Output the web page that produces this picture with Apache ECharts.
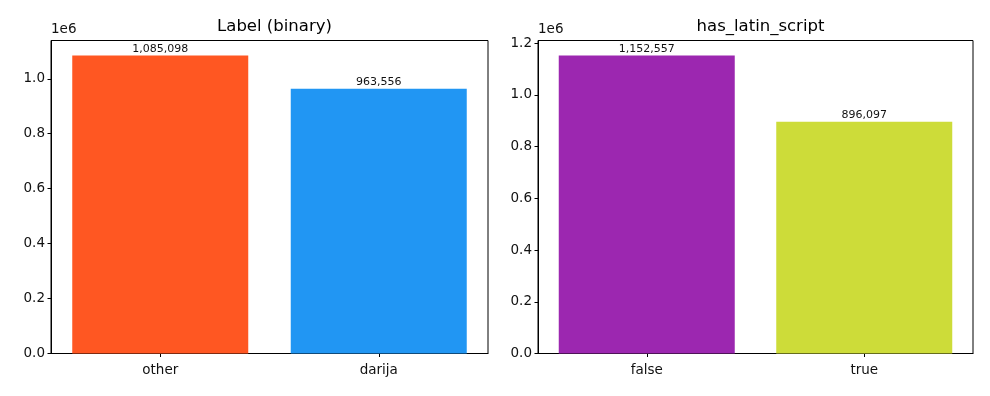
<!DOCTYPE html>
<html>
<head>
<meta charset="utf-8">
<script src="https://cdn.jsdelivr.net/npm/echarts@6/dist/echarts.min.js"></script>
<style>html,body{margin:0;padding:0;background:#fff}#c{width:990px;height:396px}</style>
</head>
<body>
<div id="c"></div>
<script>
const titles = ['Label (binary)', 'has_latin_script'];
const categoriesLeft = ['other', 'darija'];
const valuesLeft = [1085098, 963556];
const categoriesRight = ['false', 'true'];
const valuesRight = [1152557, 896097];
const colorsLeft = ['#FF5722', '#2196F3'];
const colorsRight = ['#9C27B0', '#CDDC39'];
const yTickStep = 200000;

const font = 'DejaVu Sans';
const chart = echarts.init(document.getElementById('c'), null, {renderer: 'canvas'});

const grids = [
  {left: 51, top: 40.5, width: 437, height: 313, show: true, borderColor: '#000', borderWidth: 1},
  {left: 538, top: 40.5, width: 435, height: 313, show: true, borderColor: '#000', borderWidth: 1}
];
function yAx(gi, maxV) {
  return {
    type: 'value', gridIndex: gi, min: 0, max: maxV, interval: yTickStep,
    axisLine: {show: true, lineStyle: {color: '#000', width: 1}},
    axisTick: {show: true, length: 3.5, lineStyle: {color: '#000'}},
    splitLine: {show: false},
    axisLabel: {margin: 6, color: '#111', fontFamily: font, fontSize: 13.5, showMaxLabel: false,
      formatter: v => (v % yTickStep === 0) ? (v / 1e6).toFixed(1) : ''}
  };
}
function xAx(gi, cats) {
  return {
    type: 'category', gridIndex: gi, data: cats,
    axisLine: {show: true, lineStyle: {color: '#000', width: 1}},
    axisTick: {show: true, alignWithLabel: true, length: 3.5, lineStyle: {color: '#000'}},
    axisLabel: {margin: 10, color: '#111', fontFamily: font, fontSize: 13.5}
  };
}
function ser(gi, vals, cols) {
  return {
    type: 'bar', xAxisIndex: gi, yAxisIndex: gi, barWidth: 176,
    data: vals.map((v, i) => ({value: v, itemStyle: {color: cols[i]}})),
    label: {show: true, position: 'top', distance: 1, color: '#111', fontFamily: font, fontSize: 11,
      formatter: p => p.value.toLocaleString('en-US')}
  };
}
const maxL = Math.max(...valuesLeft) * 1.05;
const maxR = Math.max(...valuesRight) * 1.05;

chart.setOption({
  animation: false,
  title: [
    {text: titles[0], left: 269.5, top: 13, textAlign: 'center', textStyle: {fontFamily: font, fontSize: 16.5, fontWeight: 'normal', color: '#000'}},
    {text: titles[1], left: 755.5, top: 13, textAlign: 'center', textStyle: {fontFamily: font, fontSize: 16.5, fontWeight: 'normal', color: '#000'}}
  ],
  grid: grids,
  xAxis: [xAx(0, categoriesLeft), xAx(1, categoriesRight)],
  yAxis: [yAx(0, maxL), yAx(1, maxR)],
  series: [ser(0, valuesLeft, colorsLeft), ser(1, valuesRight, colorsRight)],
  graphic: [
    {type: 'text', left: 51, top: 22, style: {text: '1e6', fontFamily: font, fontSize: 13.5, fill: '#111'}},
    {type: 'text', left: 538, top: 22, style: {text: '1e6', fontFamily: font, fontSize: 13.5, fill: '#111'}}
  ]
});
</script>
</body>
</html>
